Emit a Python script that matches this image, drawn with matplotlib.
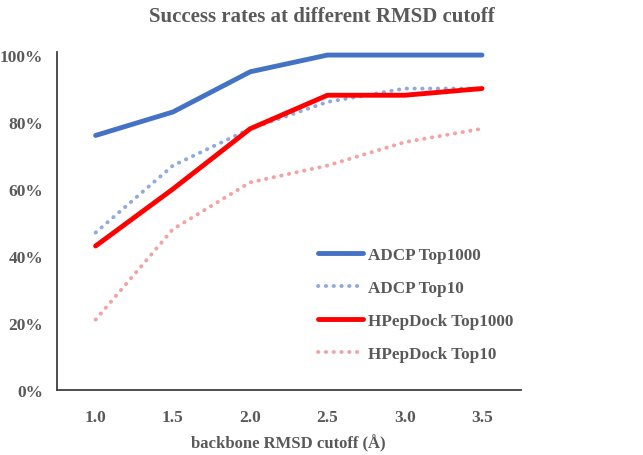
import matplotlib
matplotlib.use("Agg")
import matplotlib.pyplot as plt
from matplotlib.ticker import PercentFormatter

cutoffs = ["1.0", "1.5", "2.0", "2.5", "3.0", "3.5"]
adcp_top1000 = [0.76, 0.83, 0.95, 1.00, 1.00, 1.00]
adcp_top10 = [0.47, 0.67, 0.78, 0.86, 0.90, 0.90]
hpep_top1000 = [0.43, 0.60, 0.78, 0.88, 0.88, 0.90]
hpep_top10 = [0.21, 0.48, 0.62, 0.67, 0.74, 0.78]

plt.rcParams['font.family'] = ['Liberation Serif', 'DejaVu Serif']
plt.rcParams['font.weight'] = 'bold'
gray = '#595959'

fig = plt.figure(figsize=(6.43, 4.56), dpi=100)
ax = fig.add_axes([57 / 643, 65 / 456, (520.6 - 57) / 643, (391 - 52.7) / 456])

x = list(range(len(cutoffs)))
ax.plot(x, adcp_top1000, color='#4472C4', lw=3.5, solid_capstyle='round', label='ADCP Top1000')
ax.plot(x, adcp_top10, color='#8FAADC', lw=2.8, linestyle=(0, (0.1, 1.9)), dash_capstyle='round', label='ADCP Top10')
ax.plot(x, hpep_top1000, color='#FF0000', lw=3.5, solid_capstyle='round', label='HPepDock Top1000')
ax.plot(x, hpep_top10, color='#F4A3A3', lw=2.8, linestyle=(0, (0.1, 1.9)), dash_capstyle='round', label='HPepDock Top10')

ax.set_xlim(-0.5, len(cutoffs) - 0.5)
ax.set_ylim(0, 1.01)
ax.set_xticks(x)
ax.set_xticklabels(cutoffs)
ax.set_yticks([0, 0.2, 0.4, 0.6, 0.8, 1.0])
ax.yaxis.set_major_formatter(PercentFormatter(1.0, decimals=0))
ax.tick_params(length=0, labelsize=12.5, colors=gray, pad=10)
ax.tick_params(axis='x', pad=14)
for lab in ax.get_xticklabels() + ax.get_yticklabels():
    lab.set_fontweight('bold')

for s in ['top', 'right']:
    ax.spines[s].set_visible(False)
ax.spines['left'].set_color('#404040')
ax.spines['bottom'].set_color('#404040')
ax.spines['left'].set_linewidth(1.3)
ax.spines['bottom'].set_linewidth(1.3)

ax.set_xlabel('backbone RMSD cutoff (Å)', fontsize=12, fontweight='bold', color=gray, labelpad=6)
fig.suptitle('Success rates at different RMSD cutoff', fontsize=15, fontweight='bold', color=gray, y=0.985)

leg = ax.legend(loc='upper left', bbox_to_anchor=(0.529, 0.4685), frameon=False, fontsize=12.3,
                handlelength=2.63, handletextpad=0.3, labelspacing=1.0)
for t in leg.get_texts():
    t.set_color(gray)
    t.set_fontweight('bold')

fig.savefig('out.png', dpi=100)
